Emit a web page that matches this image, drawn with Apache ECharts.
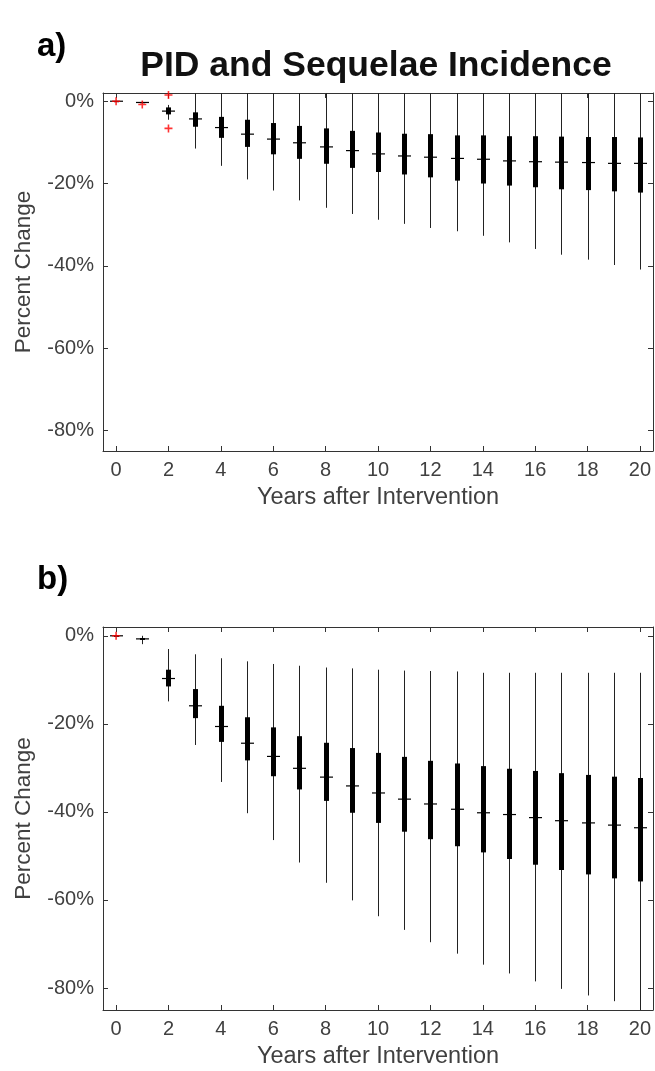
<!DOCTYPE html>
<html>
<head>
<meta charset="utf-8">
<script src="https://cdn.jsdelivr.net/npm/echarts@6/dist/echarts.min.js"></script>
<style>
  html, body { margin: 0; padding: 0; background: #fff; }
  #chart { width: 655px; height: 1071px; }
</style>
</head>
<body>
<div id="chart"></div>
<script>
// years after intervention
const years = [0, 1, 2, 3, 4, 5, 6, 7, 8, 9, 10, 11, 12, 13, 14, 15, 16, 17, 18, 19, 20];
const xTicks = [0, 2, 4, 6, 8, 10, 12, 14, 16, 18, 20];
const yTicks = [0, -20, -40, -60, -80];

// a) PID and sequelae incidence, percent change
const aLow  = [0, -0.5, -4.5, -11.5, -15.7, -19.0, -21.7, -24.1, -25.9, -27.4, -28.8, -29.8, -30.8, -31.6, -32.7, -34.3, -35.9, -37.3, -38.5, -39.8, -40.9];
const aQ1   = [0, -0.35, -3.2, -6.2, -8.9, -11.1, -12.9, -14.0, -15.2, -16.2, -17.2, -17.8, -18.5, -19.3, -20.0, -20.5, -20.9, -21.4, -21.6, -21.9, -22.2];
const aMed  = [0, -0.3, -2.4, -4.3, -6.4, -8.0, -9.2, -10.1, -11.1, -12.0, -12.8, -13.3, -13.6, -13.9, -14.1, -14.5, -14.7, -14.8, -14.9, -15.1, -15.1];
const aQ3   = [0, -0.25, -1.5, -2.7, -3.8, -4.5, -5.3, -6.0, -6.6, -7.2, -7.6, -7.9, -8.0, -8.3, -8.3, -8.5, -8.5, -8.6, -8.7, -8.7, -8.8];
const aHigh = [0, -0.1, -0.9, 3.0, 3.5, 4.0, 4.0, 4.5, 4.5, 4.5, 5.0, 5.0, 5.0, 5.0, 5.0, 5.0, 5.0, 5.0, 5.0, 5.0, 5.0];
const aOutliers = [[0, 0], [1, -0.8], [2, 1.5], [2, -6.6]];

// b)
const bLow  = [0, -1.9, -14.9, -24.8, -33.2, -40.3, -46.4, -51.5, -56.1, -60.1, -63.7, -66.8, -69.6, -72.2, -74.7, -76.7, -78.5, -80.2, -81.7, -83.0, -86.0];
const bQ1   = [0, -0.95, -11.5, -18.7, -24.1, -28.3, -31.9, -34.9, -37.5, -40.2, -42.5, -44.5, -46.2, -47.8, -49.2, -50.7, -52.0, -53.2, -54.2, -55.1, -55.8];
const bMed  = [0, -0.7, -9.7, -15.9, -20.6, -24.4, -27.4, -30.1, -32.1, -34.1, -35.7, -37.1, -38.2, -39.4, -40.2, -40.6, -41.3, -42.0, -42.5, -43.0, -43.6];
const bQ3   = [0, -0.5, -7.7, -12.1, -15.9, -18.5, -20.8, -22.8, -24.3, -25.5, -26.6, -27.5, -28.4, -29.0, -29.6, -30.2, -30.7, -31.2, -31.6, -32.0, -32.3];
const bHigh = [0, 0, -3.0, -4.2, -5.1, -5.8, -6.4, -6.8, -7.2, -7.4, -7.7, -7.9, -8.0, -8.1, -8.4, -8.4, -8.4, -8.4, -8.4, -8.4, -8.4];
const bOutliers = [[0, 0]];

const FONT = '"Liberation Sans", Arial, Helvetica, sans-serif';
const AX = '#333';
const plus = 'path://M4,0H6V4H10V6H6V10H4V6H0V4H4Z';

function boxData(low, q1, med, q3, high) {
  return years.map((y, i) => [y, low[i], q1[i], med[i], q3[i], high[i]]);
}

function renderBox(params, api) {
  const x = api.value(0);
  const pLow = api.coord([x, api.value(1)]);
  const pQ1 = api.coord([x, api.value(2)]);
  const pMed = api.coord([x, api.value(3)]);
  const pQ3 = api.coord([x, api.value(4)]);
  const pHigh = api.coord([x, api.value(5)]);
  const cx = Math.round(pMed[0]) + 0.5;
  return {
    type: 'group',
    children: [
      { type: 'line', shape: { x1: cx, y1: pHigh[1], x2: cx, y2: pLow[1] },
        style: { stroke: '#222', lineWidth: 1 } },
      { type: 'rect', shape: { x: cx - 2.5, y: pQ3[1], width: 5, height: Math.max(pQ1[1] - pQ3[1], 1) },
        style: { fill: '#000' } },
      { type: 'line', shape: { x1: cx - 6.5, y1: pMed[1], x2: cx + 6.5, y2: pMed[1] },
        style: { stroke: '#000', lineWidth: 1.2 } }
    ]
  };
}

function xAxes(grid) {
  const base = {
    gridIndex: grid, type: 'value', min: -0.5, max: 20.5,
    splitLine: { show: false },
    axisLine: { onZero: false, lineStyle: { color: AX, width: 1 } },
    axisTick: { inside: true, length: 5, customValues: xTicks, lineStyle: { color: AX } }
  };
  return [
    Object.assign({}, base, {
      position: 'bottom',
      axisLabel: { customValues: xTicks, color: '#404040', fontSize: 20, fontFamily: FONT, margin: 9 },
      name: 'Years after Intervention', nameLocation: 'middle', nameGap: 35,
      nameTextStyle: { color: '#404040', fontSize: 23.5, fontFamily: FONT }
    }),
    Object.assign({}, base, { position: 'top', axisLabel: { show: false } })
  ];
}

function yAxes(grid) {
  const base = {
    gridIndex: grid, type: 'value', min: -85, max: 2,
    splitLine: { show: false },
    axisLine: { onZero: false, lineStyle: { color: AX, width: 1 } },
    axisTick: { inside: true, length: 5, customValues: yTicks, lineStyle: { color: AX } }
  };
  return [
    Object.assign({}, base, {
      position: 'left',
      axisLabel: { customValues: yTicks, formatter: v => v + '%', color: '#404040', fontSize: 20, fontFamily: FONT, margin: 9 },
      name: 'Percent Change', nameLocation: 'middle', nameGap: 68,
      nameTextStyle: { color: '#404040', fontSize: 22.5, fontFamily: FONT }
    }),
    Object.assign({}, base, { position: 'right', axisLabel: { show: false } })
  ];
}

const chart = echarts.init(document.getElementById('chart'), null, { renderer: 'canvas' });
chart.setOption({
  backgroundColor: '#fff',
  animation: false,
  graphic: [
    { type: 'text', x: 37, y: 47, style: { text: 'a)', font: 'bold 33px ' + FONT, fill: '#000', verticalAlign: 'middle' } },
    { type: 'text', x: 376, y: 66, style: { text: 'PID and Sequelae Incidence', font: 'bold 35.5px ' + FONT, fill: '#111', align: 'center', verticalAlign: 'middle' } },
    { type: 'text', x: 37, y: 580, style: { text: 'b)', font: 'bold 33px ' + FONT, fill: '#000', verticalAlign: 'middle' } }
  ],
  grid: [
    { left: 103, top: 93, width: 550, height: 358 },
    { left: 103, top: 627, width: 550, height: 383 }
  ],
  xAxis: xAxes(0).concat(xAxes(1)),
  yAxis: yAxes(0).concat(yAxes(1)),
  series: [
    { type: 'custom', xAxisIndex: 0, yAxisIndex: 0, clip: true, renderItem: renderBox,
      data: boxData(aLow, aQ1, aMed, aQ3, aHigh), z: 2 },
    { type: 'scatter', xAxisIndex: 0, yAxisIndex: 0, clip: true, symbol: plus, symbolSize: 8,
      itemStyle: { color: '#ff0000' }, data: aOutliers, z: 3 },
    { type: 'custom', xAxisIndex: 2, yAxisIndex: 2, clip: true, renderItem: renderBox,
      data: boxData(bLow, bQ1, bMed, bQ3, bHigh), z: 2 },
    { type: 'scatter', xAxisIndex: 2, yAxisIndex: 2, clip: true, symbol: plus, symbolSize: 8,
      itemStyle: { color: '#ff0000' }, data: bOutliers, z: 3 }
  ]
});
</script>
</body>
</html>
